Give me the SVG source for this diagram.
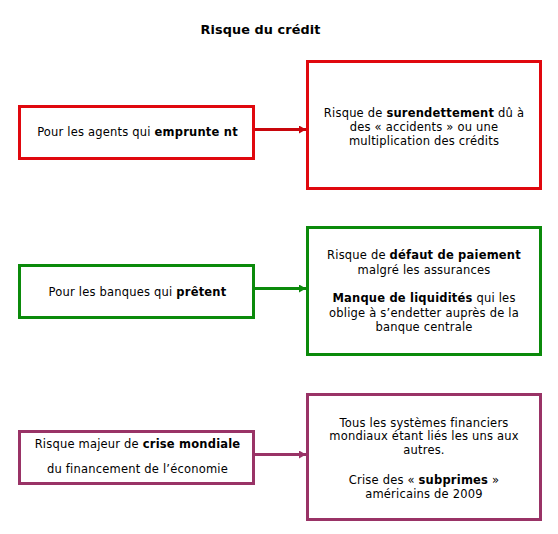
<svg xmlns="http://www.w3.org/2000/svg" width="558" height="534" viewBox="0 0 558 534">
<style>
text{font-family:"DejaVu Sans",Verdana,sans-serif;font-size:11.5px;letter-spacing:0.2px;fill:#000;text-anchor:middle}
.t{font-size:12.8px;font-weight:bold;letter-spacing:0.1px}
.b{font-weight:bold}
rect{fill:#fff;stroke-width:3}
.red rect{stroke:#e0080e}
.green rect{stroke:#0b8a0b}
.plum rect{stroke:#993366}
</style>
<defs>
<marker id="ar" viewBox="0 0 7 8" refX="7" refY="4" markerWidth="7" markerHeight="8" markerUnits="userSpaceOnUse" orient="auto"><path d="M0,0L7,4L0,8z" fill="#c8060c"/></marker>
<marker id="ag" viewBox="0 0 7 8" refX="7" refY="4" markerWidth="7" markerHeight="8" markerUnits="userSpaceOnUse" orient="auto"><path d="M0,0L7,4L0,8z" fill="#0b8a0b"/></marker>
<marker id="ap" viewBox="0 0 7 8" refX="7" refY="4" markerWidth="7" markerHeight="8" markerUnits="userSpaceOnUse" orient="auto"><path d="M0,0L7,4L0,8z" fill="#993366"/></marker>
</defs>
<text class="t" x="260.5" y="34">Risque du crédit</text>
<g id="connectors">
<line x1="254" y1="129.5" x2="306" y2="129.5" stroke="#c8060c" stroke-width="3" marker-end="url(#ar)"/>
<line x1="254" y1="288.5" x2="306" y2="288.5" stroke="#0b8a0b" stroke-width="3" marker-end="url(#ag)"/>
<line x1="254" y1="454.5" x2="306" y2="454.5" stroke="#993366" stroke-width="3" marker-end="url(#ap)"/>
</g>
<g id="n1" class="red">
<rect x="19.5" y="106.5" width="234" height="52"/>
<text x="137.5" y="136">Pour les agents qui <tspan class="b">emprunte nt</tspan></text>
</g>
<g id="n2" class="red">
<rect x="307.5" y="61.5" width="233" height="127"/>
<text x="424" y="117">Risque de <tspan class="b">surendettement</tspan> dû à</text>
<text x="424" y="131">des « accidents » ou une</text>
<text x="424" y="145">multiplication des crédits</text>
</g>
<g id="n3" class="green">
<rect x="19.5" y="265.5" width="234" height="52"/>
<text x="137.5" y="295.5">Pour les banques qui <tspan class="b">prêtent</tspan></text>
</g>
<g id="n4" class="green">
<rect x="307.5" y="227.5" width="233" height="127"/>
<text x="424" y="258.5">Risque de <tspan class="b">défaut de paiement</tspan></text>
<text x="424" y="274">malgré les assurances</text>
<text x="424" y="302"><tspan class="b">Manque de liquidités</tspan> qui les</text>
<text x="424" y="317">oblige à s’endetter auprès de la</text>
<text x="424" y="331">banque centrale</text>
</g>
<g id="n5" class="plum">
<rect x="19.5" y="431.5" width="234" height="52"/>
<text x="137.5" y="447.5">Risque majeur de <tspan class="b">crise mondiale</tspan></text>
<text x="137.5" y="473">du financement de l’économie</text>
</g>
<g id="n6" class="plum">
<rect x="307.5" y="394.5" width="233" height="125"/>
<text x="424" y="426.5">Tous les systèmes financiers</text>
<text x="424" y="440">mondiaux étant liés les uns aux</text>
<text x="424" y="454">autres.</text>
<text x="424" y="484">Crise des « <tspan class="b">subprimes</tspan> »</text>
<text x="424" y="497.5">américains de 2009</text>
</g>
</svg>
